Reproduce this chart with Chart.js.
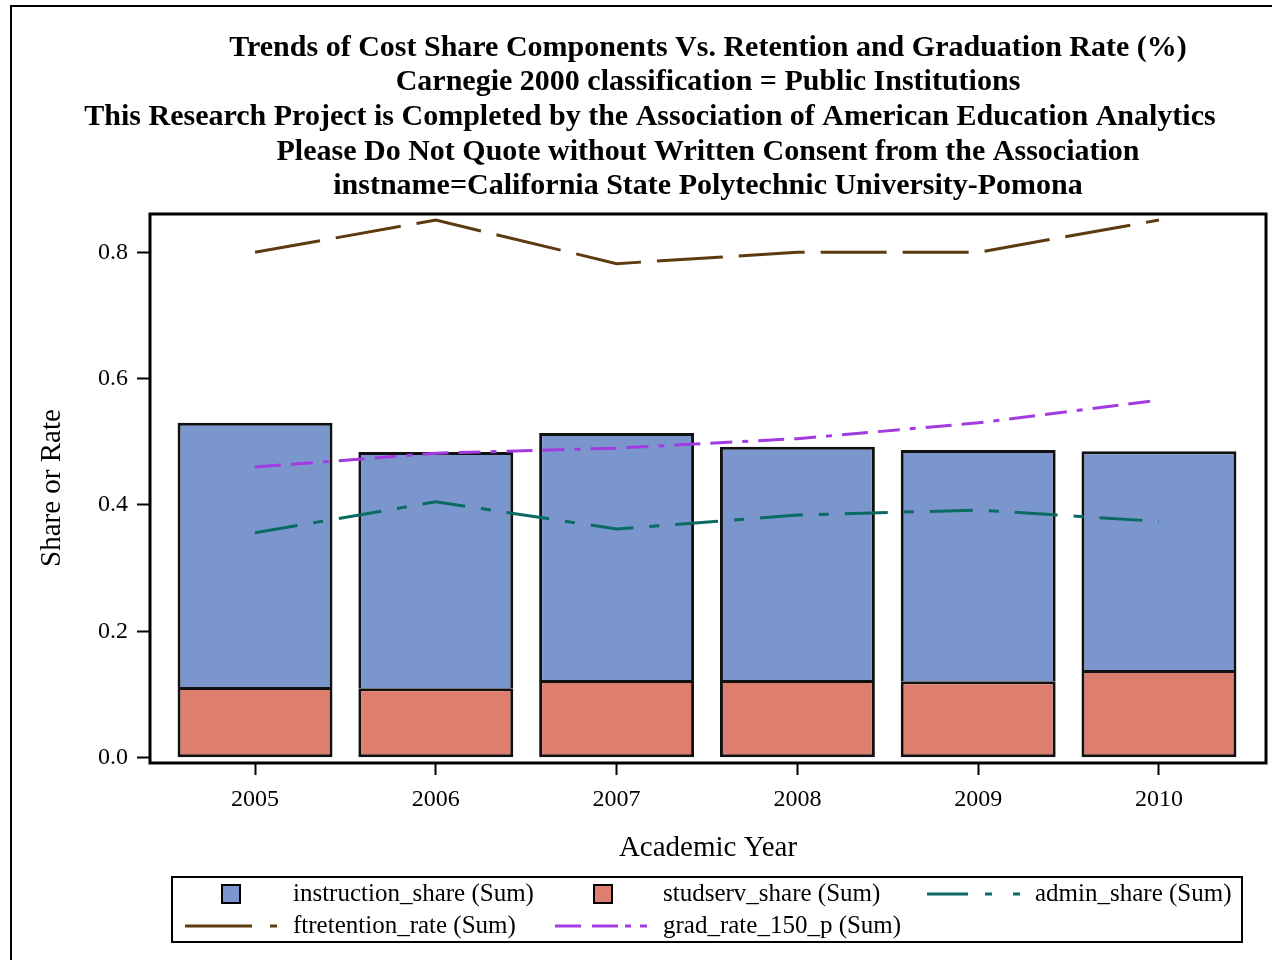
<!DOCTYPE html>
<html>
<head>
<meta charset="utf-8">
<title>Cost Share Components vs Retention and Graduation Rate</title>
<script src="https://cdn.jsdelivr.net/npm/chart.js@4.4.1/dist/chart.umd.min.js"></script>
<style>
  html, body { margin: 0; padding: 0; background: #fff; }
  canvas { display: block; }
</style>
</head>
<body>
<canvas id="chart" width="1272" height="960" style="width:1272px;height:960px"></canvas>
<script>
// values
const years = [2005, 2006, 2007, 2008, 2009, 2010];
const studservShare = [0.112, 0.110, 0.123, 0.123, 0.121, 0.139];
const instructionShare = [0.418, 0.374, 0.391, 0.369, 0.366, 0.346];
const adminShare = [0.356, 0.405, 0.362, 0.384, 0.392, 0.374];
const ftretentionRate = [0.800, 0.851, 0.782, 0.800, 0.800, 0.851];
const gradRate150 = [0.460, 0.482, 0.490, 0.505, 0.530, 0.566];
const yTicks = [0.0, 0.2, 0.4, 0.6, 0.8];

const titleLines = [
    "Trends of Cost Share Components Vs. Retention and Graduation Rate (%)",
    "Carnegie 2000 classification = Public Institutions",
    "This Research Project is Completed by the Association of American Education Analytics",
    "Please Do Not Quote without Written Consent from the Association",
    "instname=California State Polytechnic University-Pomona",
];

const SERIF = '"Liberation Serif", "Times New Roman", "DejaVu Serif", serif';
const COLORS = {
    instruction: "#7b96cc",
    studserv: "#de7e6f",
    admin: "#0a6b62",
    ftret: "#5e3b0e",
    grad: "#a33ce0",
};
const DASH = {
    ftret: [66, 16],
    admin: [43, 16, 10, 16],
    grad: [26, 10, 22, 10, 6, 10],
};

const Y_MIN = -0.0084;
const Y_MAX = 0.8606;

const pts = (arr) => arr.map((v, i) => ({ x: years[i], y: v }));

// titles, axis titles, legend, frames
const decorations = {
    id: "decorations",
    beforeDraw(chart) {
        const ctx = chart.ctx;
        ctx.save();
        ctx.fillStyle = "#fff";
        ctx.fillRect(0, 0, chart.width, chart.height);
        ctx.restore();
    },
    afterDraw(chart) {
        const ctx = chart.ctx;
        const a = chart.chartArea;
        ctx.save();

        // plot area border
        ctx.strokeStyle = "#000";
        ctx.lineWidth = 3;
        ctx.setLineDash([]);
        ctx.strokeRect(a.left, a.top, a.right - a.left, a.bottom - a.top);

        // outer frame
        ctx.lineWidth = 2;
        ctx.strokeRect(11, 6, 1300, 1000);

        // title block
        ctx.fillStyle = "#000";
        ctx.textAlign = "center";
        ctx.textBaseline = "middle";
        ctx.font = "bold 30px " + SERIF;
        const centers = [708, 708, 650, 708, 708];
        titleLines.forEach((t, i) => ctx.fillText(t, centers[i], 48 + i * 34.6));

        // axis titles
        ctx.font = "29px " + SERIF;
        ctx.fillText("Academic Year", 708, 848);
        ctx.save();
        ctx.translate(52, 488);
        ctx.rotate(-Math.PI / 2);
        ctx.fillText("Share or Rate", 0, 0);
        ctx.restore();

        // legend
        ctx.lineWidth = 2;
        ctx.strokeStyle = "#000";
        ctx.strokeRect(172, 877, 1070, 65);
        ctx.font = "25px " + SERIF;
        ctx.textAlign = "left";
        const r1 = 894, r2 = 926;

        ctx.fillStyle = COLORS.instruction;
        ctx.fillRect(222, r1 - 9, 18, 18);
        ctx.strokeRect(222, r1 - 9, 18, 18);
        ctx.fillStyle = COLORS.studserv;
        ctx.fillRect(594, r1 - 9, 18, 18);
        ctx.strokeRect(594, r1 - 9, 18, 18);

        const seg = (color, x0, x1, y) => {
            ctx.strokeStyle = color;
            ctx.lineWidth = 3;
            ctx.beginPath();
            ctx.moveTo(x0, y);
            ctx.lineTo(x1, y);
            ctx.stroke();
        };
        seg(COLORS.admin, 927, 968, r1);
        seg(COLORS.admin, 985, 992, r1);
        seg(COLORS.admin, 1013, 1020, r1);
        seg(COLORS.ftret, 185, 252, r2);
        seg(COLORS.ftret, 270, 277, r2);
        seg(COLORS.grad, 555, 581, r2);
        seg(COLORS.grad, 592, 618, r2);
        seg(COLORS.grad, 625, 631, r2);
        seg(COLORS.grad, 640, 647, r2);

        ctx.fillStyle = "#000";
        ctx.fillText("instruction_share (Sum)", 293, r1);
        ctx.fillText("studserv_share (Sum)", 663, r1);
        ctx.fillText("admin_share (Sum)", 1035, r1);
        ctx.fillText("ftretention_rate (Sum)", 293, r2);
        ctx.fillText("grad_rate_150_p (Sum)", 663, r2);

        ctx.restore();
    },
};

const tickFont = { family: SERIF, size: 24 };

new Chart(document.getElementById("chart"), {
    data: {
        datasets: [
            {
                type: "bar",
                label: "studserv_share (Sum)",
                data: pts(studservShare),
                backgroundColor: COLORS.studserv,
                borderColor: "#111",
                borderWidth: 3,
                borderSkipped: false,
                categoryPercentage: 1,
                barPercentage: 0.857,
                order: 2,
            },
            {
                type: "bar",
                label: "instruction_share (Sum)",
                data: pts(instructionShare),
                backgroundColor: COLORS.instruction,
                borderColor: "#111",
                borderWidth: 3,
                borderSkipped: "bottom",
                categoryPercentage: 1,
                barPercentage: 0.857,
                order: 2,
            },
            {
                type: "line",
                label: "admin_share (Sum)",
                data: pts(adminShare),
                yAxisID: "y2",
                borderColor: COLORS.admin,
                borderWidth: 3,
                borderDash: DASH.admin,
                pointRadius: 0,
                fill: false,
                order: 1,
            },
            {
                type: "line",
                label: "ftretention_rate (Sum)",
                data: pts(ftretentionRate),
                yAxisID: "y2",
                borderColor: COLORS.ftret,
                borderWidth: 3,
                borderDash: DASH.ftret,
                pointRadius: 0,
                fill: false,
                order: 1,
            },
            {
                type: "line",
                label: "grad_rate_150_p (Sum)",
                data: pts(gradRate150),
                yAxisID: "y2",
                borderColor: COLORS.grad,
                borderWidth: 3,
                borderDash: DASH.grad,
                pointRadius: 0,
                fill: false,
                order: 1,
            },
        ],
    },
    options: {
        responsive: false,
        animation: false,
        devicePixelRatio: 1,
        layout: { padding: { top: 214, right: 6, bottom: 0, left: 0 } },
        plugins: {
            legend: { display: false },
            title: { display: false },
            tooltip: { enabled: false },
        },
        scales: {
            x: {
                type: "linear",
                stacked: true,
                offset: false,
                min: 2004.419,
                max: 2010.592,
                afterBuildTicks: (s) => { s.ticks = years.map((v) => ({ value: v })); },
                afterFit: (s) => { s.height = 960 - 763; },
                ticks: {
                    color: "#000",
                    font: tickFont,
                    padding: 10,
                    maxRotation: 0,
                    autoSkip: false,
                    callback: (v) => String(v),
                },
                grid: {
                    offset: false,
                    drawOnChartArea: false,
                    drawTicks: true,
                    tickLength: 12,
                    tickWidth: 2,
                    tickColor: "#000",
                },
                border: { display: false },
            },
            y: {
                stacked: true,
                min: Y_MIN,
                max: Y_MAX,
                afterBuildTicks: (s) => { s.ticks = yTicks.map((v) => ({ value: v })); },
                afterFit: (s) => { s.width = 150; },
                ticks: {
                    color: "#000",
                    font: tickFont,
                    padding: 9,
                    callback: (v) => v.toFixed(1),
                },
                grid: {
                    drawOnChartArea: false,
                    drawTicks: true,
                    tickLength: 13,
                    tickWidth: 2,
                    tickColor: "#000",
                },
                border: { display: false },
            },
            y2: {
                display: false,
                min: Y_MIN,
                max: Y_MAX,
            },
        },
    },
    plugins: [decorations],
});
</script>
</body>
</html>
